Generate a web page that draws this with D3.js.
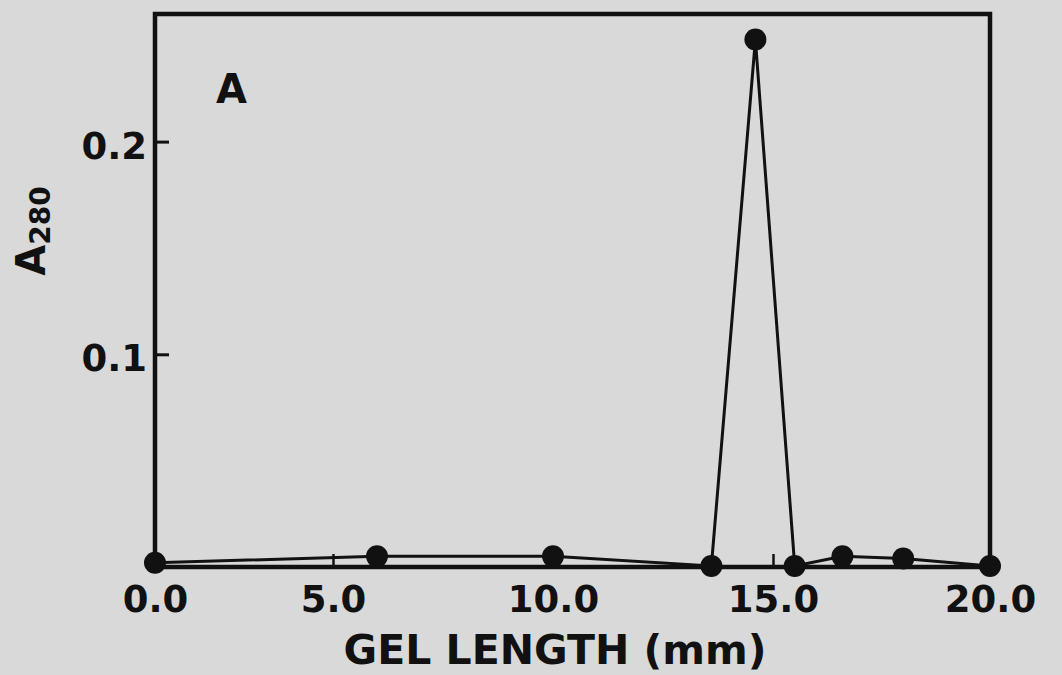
<!DOCTYPE html>
<html>
<head>
<meta charset="utf-8">
<script src="https://cdn.jsdelivr.net/npm/d3@7"></script>
<style>
  body { margin: 0; background: #d9d9d9; }
  svg { display: block; }
  text { font-family: "DejaVu Sans", sans-serif; font-weight: bold; fill: #111; }
</style>
</head>
<body>
<div id="chart"></div>
<script>
// gel length (mm) and absorbance
const gelLength = [0.0, 6.0, 10.0, 13.6, 14.6, 15.5, 16.6, 18.0, 20.0];
const a280 = [0.002, 0.005, 0.005, 0.0005, 0.248, 0.0005, 0.005, 0.004, 0.0005];
const xTicks = [0, 5, 10, 15, 20];
const yTicks = [0.1, 0.2];

const width = 1062, height = 675;
const margin = { top: 14, right: 72, bottom: 108, left: 155 };

const svg = d3.select('#chart')
              .append('svg')
              .attr('width', width)
              .attr('height', height);

// the original axis is not evenly spaced, so pin the tick positions
const x = d3.scaleLinear()
            .domain([0, 5, 15, 20])
            .range([margin.left, 333, 773, width - margin.right]);

const y = d3.scaleLinear()
            .domain([0, 0.26])
            .range([height - margin.bottom, margin.top]);

const xAxis = svg.append('g')
   .attr('transform', `translate(0, ${height - margin.bottom})`)
   .call(d3.axisBottom(x).tickValues(xTicks).tickSize(-13).tickPadding(19)
          .tickFormat(d3.format('.1f')));
xAxis.select('.domain').remove();
xAxis.selectAll('line').attr('stroke', '#111').attr('stroke-width', 2.5);
xAxis.selectAll('text').attr('font-size', 37).attr('fill', '#111')
     .attr('font-family', '"DejaVu Sans", sans-serif');

const yAxis = svg.append('g')
   .attr('transform', `translate(${margin.left}, 0)`)
   .call(d3.axisLeft(y).tickValues(yTicks).tickSize(-14).tickPadding(8)
          .tickFormat(d3.format('.1f')));
yAxis.select('.domain').remove();
yAxis.selectAll('line').attr('stroke', '#111').attr('stroke-width', 3);
yAxis.selectAll('text').attr('font-size', 37).attr('fill', '#111').attr('dy', '0.45em')
     .attr('font-family', '"DejaVu Sans", sans-serif');

// frame
svg.append('rect')
   .attr('x', margin.left)
   .attr('y', margin.top)
   .attr('width', width - margin.right - margin.left)
   .attr('height', height - margin.bottom - margin.top)
   .attr('fill', 'none')
   .attr('stroke', '#111')
   .attr('stroke-width', 4.5);

const points = gelLength.map((g, i) => ({ g, v: a280[i] }));

svg.append('path')
   .datum(points)
   .attr('fill', 'none')
   .attr('stroke', '#111')
   .attr('stroke-width', 3)
   .attr('d', d3.line().x(d => x(d.g)).y(d => y(d.v)));

svg.selectAll('circle')
   .data(points)
   .enter().append('circle')
   .attr('cx', d => x(d.g))
   .attr('cy', d => y(d.v))
   .attr('r', 11)
   .attr('fill', '#111');

// panel letter
svg.append('text')
   .attr('x', 216)
   .attr('y', 103)
   .attr('font-size', 40)
   .text('A');

// axis titles
svg.append('text')
   .attr('x', 555)
   .attr('y', 664)
   .attr('text-anchor', 'middle')
   .attr('font-size', 41)
   .text('GEL LENGTH (mm)');

const yTitle = svg.append('text')
   .attr('transform', 'translate(45, 231) rotate(-90)')
   .attr('text-anchor', 'middle')
   .attr('font-size', 40);
yTitle.append('tspan').text('A');
yTitle.append('tspan').attr('font-size', 28).attr('dy', 5).text('280');
</script>
</body>
</html>
